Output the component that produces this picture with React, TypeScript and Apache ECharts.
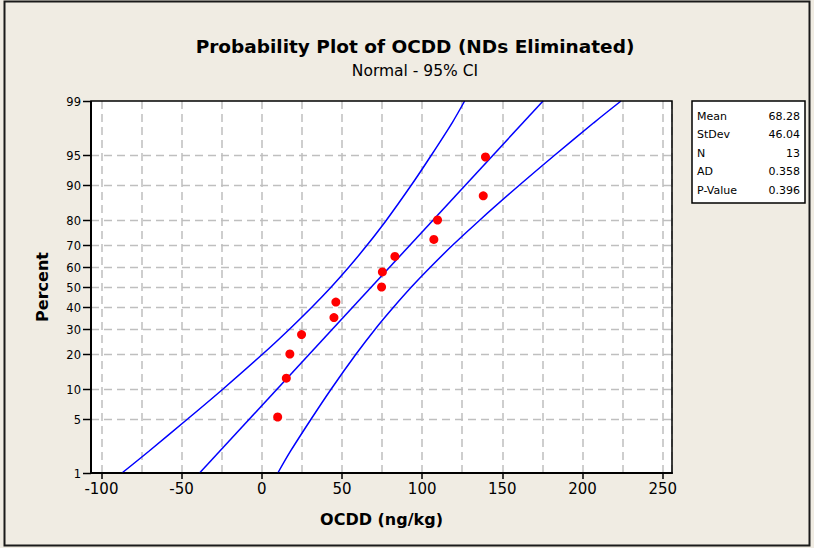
import React, { useEffect, useRef } from "react";
import * as echarts from "echarts";

// ---- data ----
const ocdd = [9.9, 15.3, 17.5, 24.8, 45.0, 46.2, 74.7, 75.2, 83.0, 107.3, 109.6, 138.1, 139.5];
const pointPercent = [5.2, 12.7, 20.1, 27.6, 35.1, 42.5, 50, 57.5, 64.9, 72.4, 79.9, 87.3, 94.8];

const bandPercent = [1, 2, 5, 10, 20, 30, 40, 50, 60, 70, 80, 90, 95, 98, 99];
const lowerBand = [-87.2, -70.4, -45.9, -24.5, 0.4, 17.4, 31.2, 43.3, 54.5, 65.7, 77.9, 93.5, 105.6, 118.7, 126.5];
const upperBand = [10.0, 17.9, 31.0, 43.1, 58.7, 70.8, 82.1, 93.3, 105.4, 119.1, 136.2, 161.1, 182.4, 207.0, 224.0];

const fitPercent = [1, 99];
const fitValues = [-38.8, 175.4];

const yTickPercents = [1, 5, 10, 20, 30, 40, 50, 60, 70, 80, 90, 95, 99];

const statLabels = ["Mean", "StDev", "N", "AD", "P-Value"];
const statValues = ["68.28", "46.04", "13", "0.358", "0.396"];

const X_MIN = -106.5;
const X_MAX = 255.8;

const FONT = "DejaVu Sans";

// inverse standard normal CDF (probability-scale transform)
function probit(p: number): number {
  const a = [-3.969683028665376e1, 2.209460984245205e2, -2.759285104469687e2, 1.38357751867269e2, -3.066479806614716e1, 2.506628277459239];
  const b = [-5.447609879822406e1, 1.615858368580409e2, -1.556989798598866e2, 6.680131188771972e1, -1.328068155288572e1];
  const c = [-7.784894002430293e-3, -3.223964580411365e-1, -2.400758277161838, -2.549732539343734, 4.374664141464968, 2.938163982698783];
  const d = [7.784695709041462e-3, 3.224671290700398e-1, 2.445134137142996, 3.754408661907416];
  const pl = 0.02425;
  const ph = 1 - pl;
  if (p < pl) {
    const q = Math.sqrt(-2 * Math.log(p));
    return (((((c[0] * q + c[1]) * q + c[2]) * q + c[3]) * q + c[4]) * q + c[5]) / ((((d[0] * q + d[1]) * q + d[2]) * q + d[3]) * q + 1);
  }
  if (p <= ph) {
    const q = p - 0.5;
    const r = q * q;
    return ((((((a[0] * r + a[1]) * r + a[2]) * r + a[3]) * r + a[4]) * r + a[5]) * q) / (((((b[0] * r + b[1]) * r + b[2]) * r + b[3]) * r + b[4]) * r + 1);
  }
  const q = Math.sqrt(-2 * Math.log(1 - p));
  return -(((((c[0] * q + c[1]) * q + c[2]) * q + c[3]) * q + c[4]) * q + c[5]) / ((((d[0] * q + d[1]) * q + d[2]) * q + d[3]) * q + 1);
}

const Y_MIN = probit(0.01);
const Y_MAX = probit(0.99);

const GRID = { left: 91, top: 101, width: 581, height: 372 };
const GRID_COLOR = "#BFBFBF";

export default function App() {
  const ref = useRef<HTMLDivElement>(null);

  useEffect(() => {
    document.body.style.margin = "0";
    if (!ref.current) return;
    const chart = echarts.init(ref.current, undefined, { renderer: "svg" });

    const blueLine = { color: "#0000FF", width: 1.5 };

    const statChildren: any[] = [
      {
        type: "rect",
        shape: { x: 692, y: 101, width: 113, height: 102 },
        style: { fill: "#FFFFFF", stroke: "#000000", lineWidth: 1.5 },
      },
    ];
    statLabels.forEach((lab, i) => {
      const y = 116.5 + i * 18.4;
      statChildren.push({
        type: "text",
        x: 697,
        y,
        style: { text: lab, fontFamily: FONT, fontSize: 11, fill: "#000", align: "left", verticalAlign: "middle" },
      });
      statChildren.push({
        type: "text",
        x: 800,
        y,
        style: { text: statValues[i], fontFamily: FONT, fontSize: 11, fill: "#000", align: "right", verticalAlign: "middle" },
      });
    });

    const option: any = {
      animation: false,
      backgroundColor: "#F0ECE3",
      grid: { ...GRID, show: true, backgroundColor: "#FFFFFF", borderWidth: 0 },
      xAxis: {
        type: "value",
        min: X_MIN,
        max: X_MAX,
        splitNumber: 7,
        axisLine: { show: true, onZero: false, lineStyle: { color: "#000", width: 2 } },
        axisTick: { show: true, inside: false, length: 6, lineStyle: { color: "#000", width: 1.5 } },
        axisLabel: {
          show: true,
          showMinLabel: false,
          showMaxLabel: false,
          fontFamily: FONT,
          fontSize: 15,
          color: "#000",
          margin: 8,
        },
        splitLine: { show: true, lineStyle: { color: GRID_COLOR, width: 1.5, type: [8, 5] } },
        minorTick: { show: false, splitNumber: 2 },
        minorSplitLine: { show: true, lineStyle: { color: GRID_COLOR, width: 1.5, type: [8, 5] } },
        name: "OCDD (ng/kg)",
        nameLocation: "middle",
        nameGap: 38,
        nameTextStyle: { fontFamily: FONT, fontSize: 16, fontWeight: "bold", color: "#000" },
      },
      yAxis: {
        type: "value",
        min: Y_MIN,
        max: Y_MAX,
        axisLine: { show: false },
        axisTick: { show: false },
        axisLabel: { show: false },
        splitLine: { show: false },
      },
      series: [
        {
          type: "custom",
          z: 1,
          silent: true,
          clip: false,
          data: yTickPercents.map((p) => [X_MIN, probit(p / 100), p]),
          encode: { x: 0, y: 1 },
          renderItem: (params: any, api: any) => {
            const pt = api.coord([api.value(0), api.value(1)]);
            const pct = api.value(2);
            const cs = params.coordSys;
            const y = Math.round(pt[1]) + 0.5;
            const children: any[] = [];
            if (pct !== 1 && pct !== 99) {
              children.push({
                type: "line",
                shape: { x1: cs.x, y1: y, x2: cs.x + cs.width, y2: y },
                style: { stroke: GRID_COLOR, lineWidth: 1.5, lineDash: [8, 5] },
              });
            }
            children.push({
              type: "line",
              shape: { x1: cs.x - 8, y1: y, x2: cs.x, y2: y },
              style: { stroke: "#000", lineWidth: 1.5 },
            });
            children.push({
              type: "text",
              x: cs.x - 10,
              y: y,
              style: {
                text: String(pct),
                fontFamily: FONT,
                fontSize: 11.5,
                fill: "#000",
                align: "right",
                verticalAlign: "middle",
              },
            });
            return { type: "group", children };
          },
        },
        {
          type: "line",
          z: 3,
          data: bandPercent.map((p, i) => [lowerBand[i], probit(p / 100)]),
          smooth: 0.3,
          showSymbol: false,
          symbol: "none",
          lineStyle: blueLine,
        },
        {
          type: "line",
          z: 3,
          data: bandPercent.map((p, i) => [upperBand[i], probit(p / 100)]),
          smooth: 0.3,
          showSymbol: false,
          symbol: "none",
          lineStyle: blueLine,
        },
        {
          type: "line",
          z: 3,
          data: fitPercent.map((p, i) => [fitValues[i], probit(p / 100)]),
          showSymbol: false,
          symbol: "none",
          lineStyle: blueLine,
        },
        {
          type: "scatter",
          z: 4,
          data: ocdd.map((v, i) => [v, probit(pointPercent[i] / 100)]),
          symbol: "circle",
          symbolSize: 9,
          itemStyle: { color: "#FF0000", opacity: 1 },
        },
      ],
      graphic: [
        {
          type: "rect",
          z: 100,
          silent: true,
          shape: { x: 4.5, y: 1.5, width: 805, height: 544 },
          style: { fill: "none", stroke: "#1A1A1A", lineWidth: 2 },
        },
        {
          type: "rect",
          z: 100,
          silent: true,
          shape: { x: GRID.left, y: GRID.top, width: GRID.width, height: GRID.height },
          style: { fill: "none", stroke: "#000", lineWidth: 1.5 },
        },
        {
          type: "line",
          z: 101,
          silent: true,
          shape: { x1: GRID.left, y1: GRID.top, x2: GRID.left, y2: GRID.top + GRID.height },
          style: { stroke: "#000", lineWidth: 2 },
        },
        {
          type: "text",
          x: 415,
          y: 46,
          style: {
            text: "Probability Plot of OCDD (NDs Eliminated)",
            fontFamily: FONT,
            fontSize: 18.5,
            fontWeight: "bold",
            fill: "#000",
            align: "center",
            verticalAlign: "middle",
          },
        },
        {
          type: "text",
          x: 415,
          y: 71,
          style: {
            text: "Normal - 95% CI",
            fontFamily: FONT,
            fontSize: 15.5,
            fill: "#000",
            align: "center",
            verticalAlign: "middle",
          },
        },
        {
          type: "text",
          x: 42,
          y: 287,
          rotation: Math.PI / 2,
          style: {
            text: "Percent",
            fontFamily: FONT,
            fontSize: 16,
            fontWeight: "bold",
            fill: "#000",
            align: "center",
            verticalAlign: "middle",
          },
        },
        { type: "group", z: 100, children: statChildren },
      ],
    };

    chart.setOption(option);
    return () => chart.dispose();
  }, []);

  return <div ref={ref} style={{ width: 814, height: 548 }} />;
}
